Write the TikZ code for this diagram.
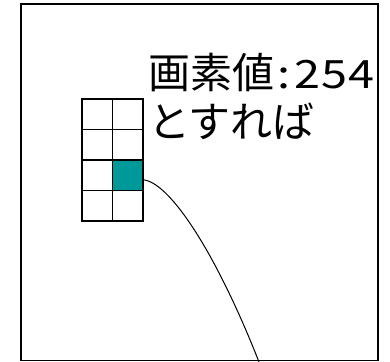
\documentclass[tikz,border=0pt]{standalone}
\usepackage{fontspec}
\newfontfamily\jp{Noto Sans CJK JP}
\newfontfamily\jpwide[FakeStretch=1.2]{Noto Sans CJK JP}
\definecolor{tealcell}{HTML}{009999}
\begin{document}
\begin{tikzpicture}[x=1pt,y=-1pt,
  cellbox/.style={draw, line width=1.8pt, minimum width=30.5pt, minimum height=30.5pt, inner sep=0pt, outer sep=0pt},
  frame/.style={draw, line width=1.3pt},
  lbl/.style={font=\jp\fontsize{42}{48}\selectfont, anchor=base west, inner sep=0pt}]
\useasboundingbox (0,0) rectangle (390,361);
\draw[frame] (21,4) rectangle (378,360.5);
\foreach \r in {0,...,3}{
  \foreach \c in {0,1}{
    \node[cellbox] (c-\r-\c) at ({97.25+30.5*\c},{114.25+30.5*\r}) {};
  }
}
\node[cellbox, fill=tealcell] (hot) at (c-2-1) {};
\node[lbl] (t1) at (148,88) {画素値{\jpwide\fontsize{39}{44}\selectfont \kern3pt:\kern4pt 2\kern1pt 5\kern1pt 4}};
\node[lbl] (t2) at (148,137) {とすれば};
\coordinate (endpt) at (259,362);
\draw[line width=1pt] ([yshift=-4.5pt,xshift=-1pt]hot.east) .. controls (168,180) and (215,250) .. (endpt);
\end{tikzpicture}
\end{document}
